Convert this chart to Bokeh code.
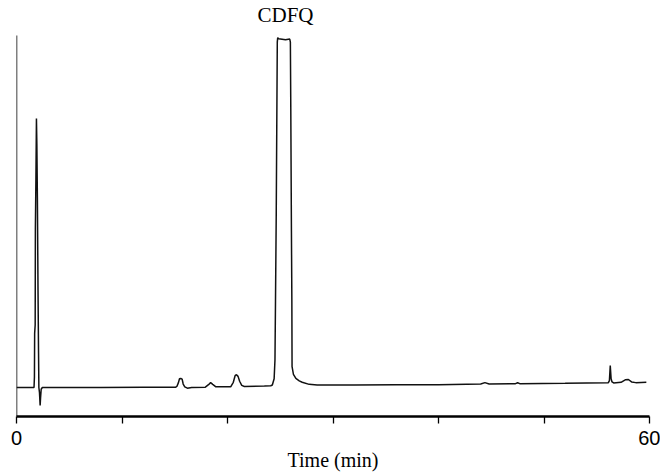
from bokeh.plotting import figure
from bokeh.models import Range1d, FixedTicker
from bokeh.core.properties import value
from bokeh.embed import file_html
from bokeh.resources import INLINE

# Chromatogram trace (time in min, detector signal in arbitrary units)
time_min = [0.0, 1.66, 1.70, 1.72, 1.77, 1.79, 1.84, 1.89, 1.93, 1.98, 2.04, 2.09, 2.12,
            2.18, 2.24, 2.28, 2.34, 2.45, 8.0, 12.0,
            15.1, 15.2, 15.35, 15.45, 15.57, 15.7, 15.8, 15.95, 16.2, 16.6,
            17.9, 18.2, 18.4, 18.6, 18.9,
            20.3, 20.55, 20.72, 20.85, 21.0, 21.15, 21.35, 21.6,
            23.5, 24.1, 24.25, 24.42, 24.5, 24.55, 24.62, 24.68, 24.72, 24.76, 24.85,
            25.5, 25.9, 25.96, 26.0, 26.06, 26.10, 26.12, 26.25, 26.48, 26.8, 27.08,
            27.74, 28.5, 32.0, 36.0, 40.0, 44.0, 44.4, 44.8, 47.3, 47.5, 47.7, 52.0,
            56.1, 56.2, 56.28, 56.36, 56.45, 56.6, 57.3, 57.7, 58.0, 58.3, 58.7, 59.7]
signal = [0.0, 0.0, 3.0, 15.6, 18.0, 45.8, 60.0, 77.5, 70.0, 54.8, 28.0, 10.0, 0.0,
          -1.5, -5.2, -3.0, -0.5, 0.0, 0.0, 0.05,
          0.1, 0.3, 1.4, 2.5, 2.6, 2.4, 1.0, 0.2, -0.2, 0.0,
          0.1, 0.8, 1.4, 0.9, 0.2,
          0.2, 1.5, 3.4, 3.7, 3.2, 1.8, 0.6, 0.3,
          0.4, 0.5, 0.7, 2.5, 8.0, 25.0, 50.0, 80.0, 99.6, 100.8, 100.5,
          100.2, 100.4, 99.5, 80.0, 45.0, 25.0, 6.0, 3.8, 2.6, 1.9, 1.5,
          0.9, 0.7, 0.7, 0.8, 0.8, 1.0, 1.4, 1.0, 1.1, 1.35, 1.1, 1.2,
          1.4, 2.0, 6.3, 2.5, 1.6, 1.3, 1.5, 2.2, 2.3, 1.6, 1.4, 1.5]

peak_names = ["CDFQ"]
peak_name_time = [25.5]
peak_name_signal = [107.3]

x_ticks = [0, 10, 20, 30, 40, 50, 60]
x_tick_labels = ["0", "", "", "", "", "", "60"]
x_title = "Time (min)"

y_min, y_max = -8.36, 111.5
y_line_top = 101.4

p = figure(width=660, height=473, x_range=Range1d(0, 60), y_range=Range1d(y_min, y_max),
           output_backend="svg", toolbar_location=None,
           min_border_left=16, min_border_right=11, min_border_top=0, min_border_bottom=57)
p.background_fill_color = "white"
p.border_fill_color = "white"
p.outline_line_color = None
p.grid.visible = False
p.yaxis.visible = False

ax = p.xaxis[0]
ax.ticker = FixedTicker(ticks=x_ticks)
ax.major_label_overrides = {t: lab for t, lab in zip(x_ticks, x_tick_labels)}
ax.minor_tick_line_color = None
ax.major_tick_in = 0
ax.major_tick_out = 7
ax.major_tick_line_width = 1.3
ax.major_tick_line_color = "black"
ax.axis_line_width = 2.5
ax.axis_line_color = "black"
ax.major_label_text_font = "Liberation Sans"
ax.major_label_text_font_size = "20px"
ax.major_label_text_color = "black"
ax.major_label_standoff = 7
ax.axis_label = x_title
ax.axis_label_text_font = "Liberation Serif"
ax.axis_label_text_font_style = "normal"
ax.axis_label_text_font_size = "20px"
ax.axis_label_text_color = "black"
ax.axis_label_standoff = 1

# left vertical line
p.segment(x0=[0], y0=[y_min], x1=[0], y1=[y_line_top], line_width=1.5, line_color="black")

p.line(time_min, signal, line_width=1.5, line_color="#111111")

p.text(x=peak_name_time, y=peak_name_signal, text=peak_names,
       text_font=value("Liberation Serif"), text_font_size="21px",
       text_align="center", text_baseline="alphabetic", text_color="black")

open("out.html", "w").write(file_html(p, INLINE))
